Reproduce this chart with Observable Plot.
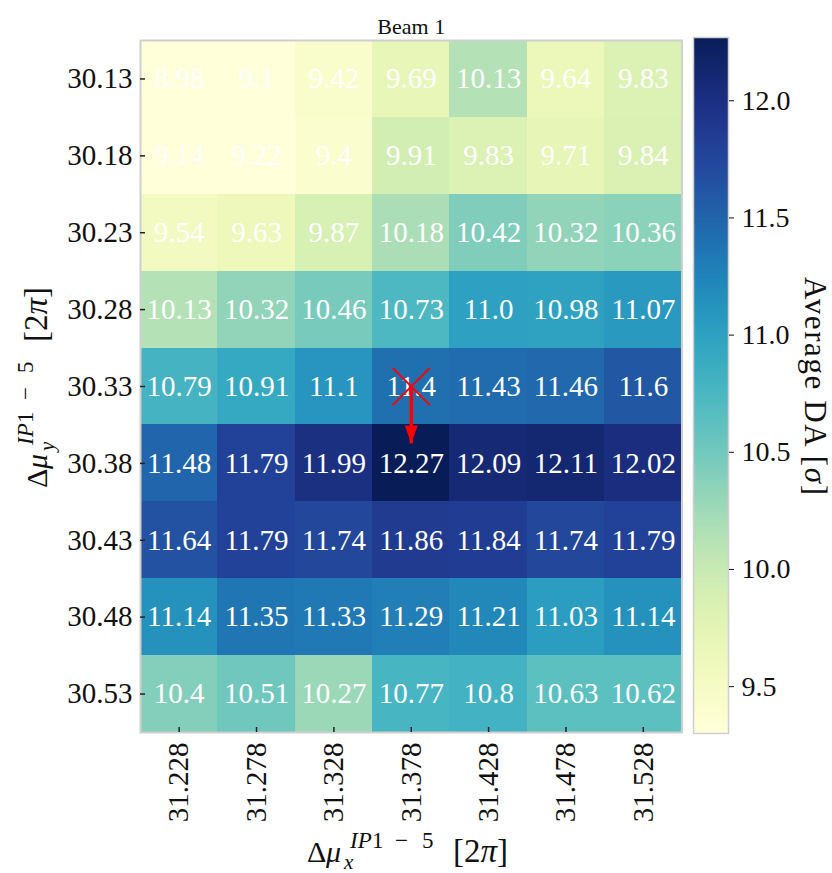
<!DOCTYPE html>
<html><head><meta charset="utf-8">
<script src="https://cdn.jsdelivr.net/npm/d3@7"></script>
<script src="https://cdn.jsdelivr.net/npm/@observablehq/plot@0.6"></script>
<style>
body{margin:0;background:#fff;}
#wrap{position:relative;width:832px;height:873px;}
#wrap svg{position:absolute;top:0;left:0;font-family:"Liberation Serif","Times New Roman",serif;}
#wrap svg text{font-family:"Liberation Serif","Times New Roman",serif;}
</style></head><body><div id="wrap"></div>
<script>
// ---- data ----
const muX = [31.228, 31.278, 31.328, 31.378, 31.428, 31.478, 31.528];
const muY = [30.13, 30.18, 30.23, 30.28, 30.33, 30.38, 30.43, 30.48, 30.53];
const avgDA = [
  [8.98, 9.1, 9.42, 9.69, 10.13, 9.64, 9.83],
  [9.14, 9.22, 9.4, 9.91, 9.83, 9.71, 9.84],
  [9.54, 9.63, 9.87, 10.18, 10.42, 10.32, 10.36],
  [10.13, 10.32, 10.46, 10.73, 11.0, 10.98, 11.07],
  [10.79, 10.91, 11.1, 11.4, 11.43, 11.46, 11.6],
  [11.48, 11.79, 11.99, 12.27, 12.09, 12.11, 12.02],
  [11.64, 11.79, 11.74, 11.86, 11.84, 11.74, 11.79],
  [11.14, 11.35, 11.33, 11.29, 11.21, 11.03, 11.14],
  [10.4, 10.51, 10.27, 10.77, 10.8, 10.63, 10.62]
];
const colorTicks = [9.5, 10.0, 10.5, 11.0, 11.5, 12.0];
const colorDomain = [9.3, 12.27];
const markerPoint = [{x: 31.378, y: 30.33}];
const arrowTip = [{x: 31.378, y: 30.367}];
const titleText = "Beam 1";
const cbarLabel = "Average DA [";

// ---- layout ----
const W = 832, H = 873;
const FONT = '"Liberation Serif","Times New Roman",serif';
const half = 0.025;
const fL = 140, fR = 681.5, fT = 40, fB = 732;
const frameW = fR - fL, frameH = fB - fT;

const cells = muY.flatMap((y, i) => muX.map((x, j) => ({x, y, v: avgDA[i][j]})));
const fmt = v => Number.isInteger(v) ? v.toFixed(1) : String(v);
const colorOpts = {type: "linear", scheme: "ylgnbu", domain: colorDomain, clamp: true};

// custom narrow arrow head with tip at the anchor point, pointing down
const arrowHead = {draw(ctx) { ctx.moveTo(0, 0); ctx.lineTo(-6.5, -18); ctx.lineTo(6.5, -18); ctx.closePath(); }};

const main = Plot.plot({
  width: W, height: H,
  marginLeft: fL, marginRight: W - fR, marginTop: fT, marginBottom: H - fB,
  style: {fontFamily: FONT, background: "transparent", overflow: "visible", color: "#111"},
  x: {type: "linear", domain: [muX[0] - half, muX[muX.length - 1] + half]},
  y: {type: "linear", domain: [muY[0] - half, muY[muY.length - 1] + half], reverse: true},
  color: colorOpts,
  marks: [
    Plot.rect(cells, {x1: d => d.x - half, x2: d => d.x + half, y1: d => d.y - half, y2: d => d.y + half, fill: "v", shapeRendering: "crispEdges"}),
    Plot.text(cells, {x: "x", y: "y", text: d => fmt(d.v), fill: "white", fontSize: 29, fontFamily: FONT}),
    Plot.frame({stroke: "#cfcfcf", strokeWidth: 2}),
    Plot.tickY(muY, {y: d => d, stroke: "#222", strokeWidth: 1.5, insetRight: frameW - 5}),
    Plot.tickX(muX, {x: d => d, stroke: "#222", strokeWidth: 1.5, insetTop: frameH - 5}),
    Plot.axisY({ticks: muY, tickSize: 0, tickPadding: 8, tickFormat: d => d.toFixed(2), fontSize: 29, fontFamily: FONT, label: null}),
    Plot.axisX({ticks: muX, tickSize: 0, tickPadding: 10, tickRotate: -90, tickFormat: d => d.toFixed(3), fontSize: 29, fontFamily: FONT, label: null}),
    Plot.dot(markerPoint, {x: "x", y: "y", symbol: "times", r: 17, stroke: "red", strokeWidth: 2}),
    Plot.link(markerPoint, {x1: "x", y1: "y", x2: d => arrowTip[0].x, y2: d => arrowTip[0].y, stroke: "red", strokeWidth: 3.5}),
    Plot.dot(arrowTip, {x: "x", y: "y", symbol: arrowHead, fill: "red", stroke: "none"}),
    Plot.text([titleText], {frameAnchor: "top", dy: -22, fontSize: 22, fontFamily: FONT, fill: "#111"})
  ]
});

const NSTEP = 300;
const ramp = d3.range(0, NSTEP).map(i => colorDomain[0] + (colorDomain[1] - colorDomain[0]) * i / NSTEP);
const rstep = (colorDomain[1] - colorDomain[0]) / NSTEP;
const cbar = Plot.plot({
  width: W, height: H,
  marginLeft: 693, marginRight: W - 728, marginTop: 37, marginBottom: H - 733,
  style: {fontFamily: FONT, background: "transparent", overflow: "visible", color: "#111"},
  y: {domain: colorDomain},
  color: colorOpts,
  marks: [
    Plot.rect(ramp, {y1: d => d, y2: d => Math.min(d + rstep * 1.5, colorDomain[1]), fill: d => d}),
    Plot.frame({stroke: "#cfcfcf", strokeWidth: 1.5}),
    Plot.axisY({anchor: "right", ticks: colorTicks, tickSize: 5, tickPadding: 8, tickFormat: d => d.toFixed(1), fontSize: 28, fontFamily: FONT, label: null})
  ]
});

const wrap = document.getElementById("wrap");
wrap.appendChild(main);
wrap.appendChild(cbar);

function mathText(svg, x, y, rot, parts, anchor) {
  const t = d3.select(svg).append("text")
    .attr("transform", `translate(${x},${y}) rotate(${rot})`)
    .attr("text-anchor", anchor || "start")
    .attr("font-family", FONT)
    .attr("fill", "#111")
    .style("white-space", "pre");
  for (const p of parts) {
    const s = t.append("tspan").text(p.t).attr("font-size", p.size);
    if (p.it) s.attr("font-style", "italic");
    if (p.x != null) s.attr("x", p.x);
    if (p.y != null) s.attr("y", p.y);
    if (p.ls) s.attr("letter-spacing", p.ls);
  }
  return t;
}
function muLabel(sub) {
  return [
    {t: "Δ", size: 30, x: 0, y: 0},
    {t: "μ", size: 30, it: true, x: 19, y: 0},
    {t: sub, size: 21, it: true, x: 37, y: 7},
    {t: "IP", size: 23, it: true, x: 43, y: -14},
    {t: "1", size: 23, x: 65, y: -14},
    {t: "−", size: 23, x: 88, y: -14},
    {t: "5", size: 23, x: 115, y: -14},
    {t: "[2", size: 33, x: 146, y: 0},
    {t: "π", size: 33, it: true},
    {t: "]", size: 33}
  ];
}
mathText(main, 307, 862, 0, muLabel("x"));
mathText(main, 47, 488, -90, muLabel("y"));
mathText(cbar, 805, 386, 90, [
  {t: cbarLabel, size: 31, ls: 1.6},
  {t: "σ", size: 31, it: true, ls: 1.6},
  {t: "]", size: 31}
], "middle");
</script>
</body></html>
